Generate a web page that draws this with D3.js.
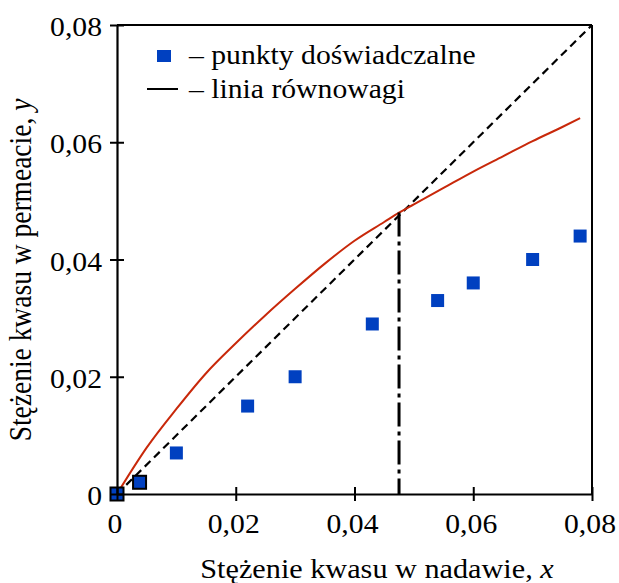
<!DOCTYPE html>
<html>
<head>
<meta charset="utf-8">
<script src="https://cdn.jsdelivr.net/npm/d3@7"></script>
<style>
  html, body { margin: 0; padding: 0; background: #fff; }
  svg { display: block; }
  text { font-family: "Liberation Serif", "Times New Roman", serif; fill: #000; }
</style>
</head>
<body>
<svg id="chart" width="619" height="583"></svg>
<script>
// Experimental points: feed concentration x vs permeate concentration y
const expX = [0, 0.0038, 0.01, 0.022, 0.03, 0.043, 0.054, 0.06, 0.07, 0.078];
const expY = [0, 0.002, 0.007, 0.015, 0.02, 0.029, 0.033, 0.036, 0.04, 0.044];
// Points with outlined markers
const outlined = [true, true, false, false, false, false, false, false, false, false];

// Equilibrium curve
const eqX = [0, 0.005, 0.01, 0.015, 0.02, 0.025, 0.03, 0.035, 0.04, 0.045, 0.0475, 0.05, 0.055, 0.06, 0.065, 0.07, 0.075, 0.078];
const eqY = [0, 0.0079, 0.0145, 0.0206, 0.0257, 0.0305, 0.0350, 0.0393, 0.0432, 0.0464, 0.0480, 0.0494, 0.0522, 0.0550, 0.0576, 0.0602, 0.0626, 0.0641];

// Azeotropic point (curve crosses the diagonal)
const azeoX = [0.0475];
const azeoY = [0.048];

const xTicks = [0, 0.02, 0.04, 0.06, 0.08];
const yTicks = [0, 0.02, 0.04, 0.06, 0.08];
const tickFmt = v => v === 0 ? "0" : v.toFixed(2).replace(".", ",");

const xTitle = "Stężenie kwasu w nadawie, ";
const xVar = "x";
const yTitle = "Stężenie kwasu w permeacie, ";
const yVar = "y";
const legendPoints = "– punkty doświadczalne";
const legendLine = "– linia równowagi";

const svg = d3.select("#chart");
const mLeft = 117, mRight = 592, mTop = 25, mBottom = 494;
const stretch = 1.12;
const labelSize = 26.5;
const titleSize = 27;

const x = d3.scaleLinear().domain([0, 0.08]).range([mLeft, mRight]);
const y = d3.scaleLinear().domain([0, 0.08]).range([mBottom, mTop]);

const plot = svg.append("g");

// Diagonal y = x
plot.append("line")
  .attr("x1", x(0)).attr("y1", y(0))
  .attr("x2", x(0.08)).attr("y2", y(0.08))
  .attr("stroke", "#000").attr("stroke-width", 2.2)
  .attr("stroke-dasharray", "8,5");

// Equilibrium curve
const eqData = eqX.map((v, i) => [v, eqY[i]]);
plot.append("path")
  .datum(eqData)
  .attr("fill", "none")
  .attr("stroke", "#c8280a")
  .attr("stroke-width", 2)
  .attr("d", d3.line().x(d => x(d[0])).y(d => y(d[1])).curve(d3.curveMonotoneX));

// Vertical dash-dot line at the azeotrope
plot.append("line")
  .attr("x1", x(azeoX[0])).attr("y1", y(azeoY[0]))
  .attr("x2", x(azeoX[0])).attr("y2", y(0))
  .attr("stroke", "#000").attr("stroke-width", 3)
  .attr("stroke-dasharray", "24,5,4,5");

// Experimental markers
const ms = 13;
plot.selectAll("rect.pt")
  .data(expX.map((v, i) => ({ x: v, y: expY[i], o: outlined[i] })))
  .join("rect")
  .attr("class", "pt")
  .attr("x", d => x(d.x) - ms / 2)
  .attr("y", d => y(d.y) - ms / 2)
  .attr("width", ms).attr("height", ms)
  .attr("fill", "#0040c0")
  .attr("stroke", d => d.o ? "#000" : "none")
  .attr("stroke-width", 2);

// Frame and axes
const frame = svg.append("g").attr("stroke", "#000").attr("stroke-width", 2).attr("fill", "none");
frame.append("line").attr("x1", mLeft).attr("x2", mRight).attr("y1", mTop).attr("y2", mTop);
frame.append("line").attr("x1", mRight).attr("x2", mRight).attr("y1", mTop).attr("y2", mBottom);

const xAxis = svg.append("g")
  .attr("transform", `translate(0,${mBottom})`)
  .call(d3.axisBottom(x).tickValues(xTicks).tickSize(0).tickFormat(""));
xAxis.select(".domain").attr("stroke-width", 2.2);
xAxis.selectAll(".tick").append("line")
  .attr("y1", -7).attr("y2", 7).attr("stroke", "#000").attr("stroke-width", 2);

const yAxis = svg.append("g")
  .attr("transform", `translate(${mLeft},0)`)
  .call(d3.axisLeft(y).tickValues(yTicks).tickSize(0).tickFormat(""));
yAxis.select(".domain").attr("stroke-width", 2.2);
yAxis.selectAll(".tick").append("line")
  .attr("x1", -7).attr("x2", 7).attr("stroke", "#000").attr("stroke-width", 2);

// Tick labels
svg.append("g").selectAll("text")
  .data(xTicks).join("text")
  .attr("transform", d => `translate(${x(d) - 2},${mBottom + 39}) scale(${stretch},1)`)
  .attr("text-anchor", "middle")
  .attr("font-size", labelSize)
  .text(tickFmt);

svg.append("g").selectAll("text")
  .data(yTicks).join("text")
  .attr("transform", d => `translate(102,${y(d) + 11}) scale(${stretch},1)`)
  .attr("text-anchor", "end")
  .attr("font-size", labelSize)
  .text(tickFmt);

// Axis titles
const xt = svg.append("text")
  .attr("transform", `translate(377,578) scale(${stretch},1)`)
  .attr("text-anchor", "middle")
  .attr("font-size", titleSize);
xt.append("tspan").text(xTitle);
xt.append("tspan").attr("font-style", "italic").text(xVar);

const yt = svg.append("text")
  .attr("transform", `translate(31,270) rotate(-90) scale(1,${stretch})`)
  .attr("text-anchor", "middle")
  .attr("font-size", titleSize + 0.5);
yt.append("tspan").text(yTitle);
yt.append("tspan").attr("font-style", "italic").text(yVar);

// Legend
const lg = svg.append("g");
lg.append("rect")
  .attr("x", 157).attr("y", 50).attr("width", 14).attr("height", 12)
  .attr("fill", "#0040c0");
lg.append("text")
  .attr("transform", `translate(189,64) scale(${stretch},1)`)
  .attr("font-size", labelSize)
  .text(legendPoints);
lg.append("line")
  .attr("x1", 147).attr("x2", 178).attr("y1", 89).attr("y2", 89)
  .attr("stroke", "#000").attr("stroke-width", 2);
lg.append("text")
  .attr("transform", `translate(189,98) scale(${stretch},1)`)
  .attr("font-size", labelSize)
  .text(legendLine);
</script>
</body>
</html>
